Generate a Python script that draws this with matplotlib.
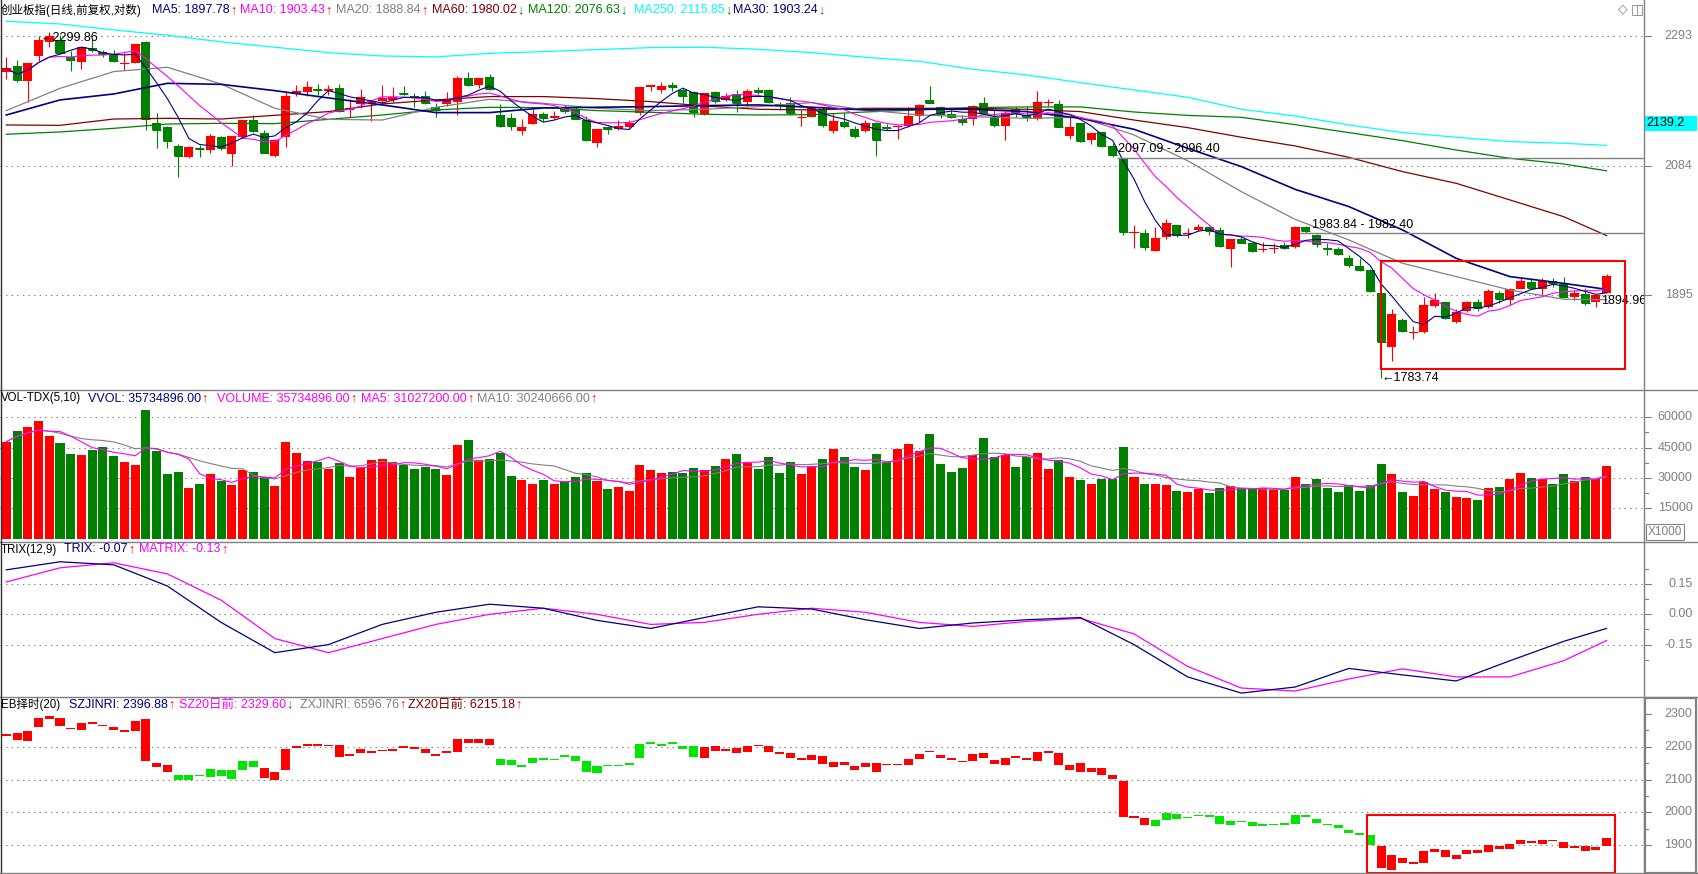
import numpy as np
import pandas as pd
import matplotlib
matplotlib.use('Agg')
import matplotlib.pyplot as plt
from matplotlib.lines import Line2D
from matplotlib.patches import Rectangle
from matplotlib.ticker import NullLocator

plt.rcParams['font.family'] = ['Liberation Sans', 'Noto Sans CJK SC', 'DejaVu Sans']

# ---------------- data ----------------
OPEN = [2233.8, 2243.1, 2218.4, 2259.6, 2283.6, 2286.4, 2258.5, 2250.3, 2272.4, 2265.7,
        2261.3, 2246.4, 2247.5, 2283.6, 2150.4, 2145.2, 2114.9, 2098.3, 2111.2, 2108.6,
        2129.5, 2102.4, 2128.5, 2155.6, 2134.7, 2099.3, 2128.5, 2197.3, 2201.1, 2205.4,
        2202.1, 2207.0, 2171.7, 2180.7, 2182.3, 2186.6, 2187.7, 2199.5, 2194.1, 2194.1,
        2175.9, 2181.3, 2185.0, 2222.8, 2211.8, 2224.5, 2163.6, 2159.4, 2138.9, 2149.3,
        2165.2, 2159.4, 2175.4, 2172.7, 2155.6, 2119.1, 2145.2, 2141.0, 2145.2, 2167.4,
        2209.1, 2203.8, 2211.3, 2203.8, 2201.1, 2165.2, 2201.1, 2187.7, 2197.3, 2185.0,
        2203.8, 2203.8, 2180.7, 2182.3, 2159.9, 2161.0, 2172.7, 2138.9, 2153.0, 2141.0,
        2138.9, 2151.4, 2145.2, 2144.1, 2146.2, 2162.0, 2187.7, 2175.9, 2165.2, 2156.7,
        2157.8, 2182.3, 2161.0, 2146.2, 2172.7, 2163.6, 2156.7, 2182.3, 2181.3, 2130.5,
        2150.4, 2124.3, 2136.3, 2114.9, 2094.5, 1983.4, 1983.4, 1958.2, 1978.6, 1995.5,
        1982.4, 1988.3, 1993.1, 1988.3, 1961.1, 1974.7, 1969.8, 1959.2, 1961.1, 1966.0,
        1964.0, 1992.1, 1981.0, 1962.6, 1961.1, 1947.2, 1936.3, 1930.7, 1897.8, 1824.8,
        1860.9, 1843.3, 1845.1, 1880.7, 1885.3, 1858.6, 1873.8, 1886.3, 1878.4, 1898.7,
        1888.6, 1904.2, 1913.1, 1903.3, 1914.6, 1910.8, 1893.2, 1896.4, 1886.3, 1898.7]

HIGH = [2258.5, 2253.0, 2248.6, 2293.2, 2299.86, 2294.9, 2268.5, 2275.2, 2289.2, 2269.6,
        2269.6, 2264.0, 2279.7, 2284.7, 2166.3, 2146.2, 2118.0, 2114.9, 2116.5, 2133.7,
        2130.5, 2130.5, 2155.6, 2163.6, 2139.9, 2125.3, 2202.1, 2211.8, 2218.4, 2213.5,
        2211.8, 2213.5, 2188.8, 2204.8, 2187.7, 2211.8, 2209.1, 2210.2, 2199.5, 2202.7,
        2182.3, 2201.1, 2226.7, 2233.8, 2222.8, 2230.0, 2181.3, 2166.3, 2157.2, 2172.7,
        2169.0, 2170.6, 2179.7, 2175.9, 2162.0, 2141.5, 2146.2, 2155.6, 2155.6, 2209.1,
        2211.8, 2216.8, 2216.8, 2206.4, 2202.1, 2199.5, 2202.7, 2199.5, 2203.8, 2204.8,
        2209.1, 2205.4, 2185.0, 2193.1, 2171.7, 2178.1, 2175.9, 2167.4, 2166.3, 2146.2,
        2155.6, 2153.0, 2149.3, 2147.2, 2175.9, 2181.3, 2210.2, 2178.1, 2171.7, 2163.6,
        2179.7, 2192.0, 2171.7, 2170.6, 2177.0, 2178.1, 2202.1, 2189.3, 2187.7, 2159.9,
        2151.4, 2135.8, 2137.3, 2120.1, 2096.40, 1995.5, 1989.2, 1992.1, 2005.0, 1995.5,
        1990.7, 1997.0, 1994.1, 1992.1, 1975.2, 1978.6, 1971.3, 1971.3, 1969.8, 1971.3,
        1994.1, 1994.1, 1982.40, 1969.8, 1964.0, 1951.9, 1947.2, 1931.6, 1897.8, 1876.1,
        1863.2, 1852.8, 1893.2, 1897.8, 1886.3, 1875.7, 1887.6, 1889.5, 1903.3, 1901.5,
        1904.7, 1918.8, 1918.3, 1918.8, 1918.8, 1920.2, 1902.4, 1904.7, 1894.96, 1925.0]

LOW = [2221.2, 2217.3, 2185.0, 2251.9, 2275.2, 2262.9, 2235.5, 2238.2, 2266.8, 2258.5,
       2250.3, 2236.6, 2247.5, 2139.9, 2111.2, 2111.2, 2067.8, 2095.8, 2098.3, 2103.4,
       2108.6, 2084.6, 2126.9, 2137.3, 2103.4, 2098.3, 2113.8, 2194.1, 2194.1, 2195.7,
       2195.7, 2169.0, 2161.0, 2174.3, 2154.6, 2182.3, 2185.0, 2195.7, 2175.9, 2181.3,
       2161.0, 2178.1, 2163.6, 2210.2, 2207.5, 2203.8, 2145.2, 2139.9, 2132.1, 2149.3,
       2154.0, 2157.2, 2167.4, 2156.7, 2123.0, 2113.8, 2133.7, 2139.9, 2142.5, 2163.6,
       2202.7, 2199.5, 2202.7, 2182.3, 2161.0, 2164.0, 2182.3, 2185.5, 2169.0, 2178.1,
       2197.3, 2182.3, 2171.7, 2163.6, 2146.2, 2159.9, 2145.2, 2134.7, 2142.5, 2126.9,
       2137.3, 2099.3, 2139.9, 2125.8, 2145.2, 2153.0, 2183.4, 2159.4, 2158.3, 2147.8,
       2147.8, 2165.2, 2144.1, 2124.3, 2161.0, 2154.6, 2155.6, 2178.1, 2144.1, 2125.8,
       2121.7, 2118.0, 2113.8, 2097.09, 1981.5, 1962.6, 1959.2, 1958.2, 1974.7, 1978.6,
       1976.1, 1987.3, 1981.0, 1964.1, 1935.4, 1968.9, 1956.7, 1956.7, 1954.3, 1961.1,
       1961.6, 1983.84, 1964.0, 1951.9, 1951.9, 1934.4, 1929.7, 1900.1, 1783.74, 1806.1,
       1845.1, 1834.7, 1843.8, 1879.0, 1861.8, 1857.3, 1872.5, 1873.8, 1877.0, 1884.0,
       1881.6, 1903.3, 1904.2, 1895.5, 1907.0, 1891.3, 1888.6, 1881.6, 1878.4, 1897.8]

CLOSE = [2239.3, 2220.1, 2248.6, 2286.4, 2293.7, 2264.0, 2253.0, 2274.1, 2269.6, 2262.9,
         2251.4, 2248.6, 2279.7, 2156.7, 2139.9, 2123.2, 2099.3, 2113.8, 2109.7, 2131.1,
         2111.2, 2130.5, 2155.6, 2138.4, 2104.4, 2124.3, 2194.1, 2202.1, 2208.0, 2203.8,
         2205.4, 2170.6, 2175.4, 2192.0, 2186.1, 2190.4, 2193.1, 2197.3, 2193.1, 2182.3,
         2171.7, 2187.7, 2222.8, 2211.8, 2222.8, 2204.8, 2146.2, 2146.2, 2145.2, 2165.2,
         2158.9, 2162.0, 2170.6, 2157.2, 2124.3, 2141.5, 2141.0, 2146.2, 2150.4, 2209.1,
         2211.3, 2210.2, 2209.1, 2194.1, 2169.0, 2199.5, 2186.6, 2194.1, 2182.3, 2202.7,
         2201.1, 2185.0, 2179.7, 2166.3, 2161.0, 2175.9, 2147.8, 2154.6, 2146.2, 2130.5,
         2150.4, 2124.3, 2143.6, 2146.2, 2162.0, 2179.1, 2183.4, 2165.2, 2159.9, 2153.0,
         2178.1, 2167.4, 2147.8, 2167.4, 2167.4, 2161.0, 2185.0, 2183.9, 2145.2, 2145.2,
         2123.2, 2134.7, 2114.9, 2100.9, 1984.9, 1985.3, 1963.0, 1976.1, 1998.0, 1981.0,
         1984.4, 1993.1, 1987.3, 1965.0, 1975.2, 1969.8, 1958.2, 1961.1, 1962.6, 1962.1,
         1993.1, 1986.8, 1967.9, 1960.6, 1952.9, 1937.7, 1930.7, 1901.5, 1831.6, 1869.2,
         1846.5, 1844.7, 1881.2, 1888.6, 1863.2, 1872.0, 1886.3, 1877.0, 1901.5, 1889.5,
         1903.3, 1915.5, 1905.6, 1915.5, 1911.7, 1892.2, 1898.7, 1884.0, 1894.96, 1922.1]

# volume in thousands (axis shows X1000)
VOLUME = [47957, 53230, 55373, 58174, 50758, 47133, 41859, 41365, 43837, 45485,
          40870, 38069, 36421, 63613, 43342, 31971, 32960, 25050, 27027, 31971,
          28510, 26533, 33949, 32960, 30323, 26038, 47792, 42354, 38398, 37904,
          34608, 37574, 30488, 35102, 38893, 39387, 37904, 36421, 34608, 35597,
          34608, 31477, 46309, 48781, 38893, 39552, 42518, 31147, 29005, 27027,
          29005, 27027, 28510, 30323, 32301, 28510, 24555, 25544, 23566, 36421,
          33949, 32466, 32960, 32466, 34938, 33949, 35926, 39387, 41859, 37410,
          34443, 40376, 32466, 37904, 31971, 35432, 39387, 44331, 40376, 35432,
          33949, 41859, 37904, 44331, 46803, 43342, 51747, 36915, 32960, 34938,
          41365, 49770, 40376, 41365, 35432, 40376, 42354, 34443, 38893, 30488,
          29005, 27027, 29499, 29499, 45320, 30488, 27027, 27027, 26533, 23566,
          23072, 24555, 22578, 25050, 26038, 24885, 24390, 24885, 24061, 24061,
          30488, 27027, 29499, 25050, 23072, 26533, 23566, 26533, 36915, 31971,
          23072, 21094, 28016, 24555, 23072, 20600, 20106, 19117, 25050, 25544,
          29499, 32466, 29994, 29499, 27027, 31971, 28510, 30488, 29499, 35735]

# long moving averages / indicators, read at these bar indices
MA_IDX = [0, 5, 10, 15, 20, 25, 30, 35, 40, 45, 50, 55, 60, 65, 70, 75, 80, 85, 90, 95,
          100, 105, 110, 115, 120, 125, 130, 135, 140, 145, 149]
MA20 = [2170.6, 2206.4, 2233.8, 2240.9, 2213.5, 2174.3, 2156.7, 2155.6, 2175.9, 2188.8,
        2182.3, 2174.3, 2170.6, 2172.7, 2177.0, 2183.4, 2171.7, 2163.6, 2161.0, 2158.3,
        2159.9, 2132.1, 2092.0, 2045.0, 2003.8, 1973.7, 1940.1, 1921.2, 1902.4, 1889.5, 1888.84]
MA30 = [2163.6, 2187.7, 2197.3, 2214.6, 2212.9, 2202.7, 2190.9, 2179.7, 2167.4, 2167.4,
        2174.9, 2175.9, 2177.0, 2178.6, 2179.7, 2175.9, 2171.7, 2172.7, 2172.7, 2169.0,
        2158.3, 2141.0, 2111.2, 2083.0, 2048.5, 2022.7, 1988.3, 1947.2, 1921.2, 1911.7, 1903.24]
MA60 = [2147.8, 2147.2, 2157.2, 2158.3, 2157.2, 2163.1, 2169.0, 2181.3, 2187.7, 2193.1,
        2193.1, 2189.8, 2185.0, 2178.1, 2172.7, 2171.7, 2174.3, 2174.3, 2174.3, 2172.7,
        2169.0, 2155.6, 2143.6, 2128.5, 2114.9, 2097.3, 2075.4, 2057.6, 2032.6, 2007.8, 1980.02]
MA120 = [2133.2, 2136.8, 2142.5, 2149.3, 2150.4, 2149.9, 2156.7, 2163.6, 2171.7, 2175.9,
         2175.4, 2170.6, 2167.9, 2164.7, 2163.6, 2164.1, 2168.4, 2171.7, 2175.4, 2176.5,
         2176.5, 2168.4, 2163.0, 2159.9, 2148.3, 2135.8, 2123.2, 2108.6, 2095.8, 2087.1, 2076.63]
MA250 = [2317.9, 2313.4, 2303.3, 2294.3, 2283.1, 2274.1, 2265.1, 2259.6, 2258.0, 2264.0,
         2266.8, 2270.2, 2273.5, 2274.1, 2270.7, 2265.1, 2257.4, 2250.8, 2237.6, 2228.3,
         2215.7, 2203.8, 2192.0, 2172.7, 2162.0, 2147.8, 2135.8, 2128.5, 2121.7, 2119.1, 2115.85]
TRIX_V = [0.22, 0.26, 0.245, 0.14, -0.04, -0.19, -0.15, -0.05, 0.01, 0.05,
          0.03, -0.03, -0.07, -0.016, 0.037, 0.026, -0.027, -0.07, -0.043, -0.027,
          -0.016, -0.15, -0.31, -0.39, -0.36, -0.268, -0.30, -0.33, -0.23, -0.134, -0.07]
MATRIX_V = [0.16, 0.23, 0.255, 0.20, 0.07, -0.12, -0.19, -0.12, -0.05, 0.0,
            0.03, 0.0, -0.05, -0.04, 0.0, 0.03, 0.01, -0.04, -0.06, -0.035,
            -0.02, -0.097, -0.258, -0.365, -0.38, -0.32, -0.27, -0.31, -0.31, -0.23, -0.13]
# EB timing state per bar: r = red, g = green
EB_STATE = ("rrrrrrrrrr" "rrrrrrgggg" "ggggrrrrrr" "rrrrrrrrrr" "rrrrrrgggg"
            "gggggggggg" "gggggrrrrr" "rrrrrrrrrr" "rrrrrrrrrr" "rrrrrrrrrr"
            "rrrrrrrggg" "gggggggggg" "ggggggggrr" "rrrrrrrrrr" "rrrrrrrrrr")

MAIN_TICKS = [2293, 2084, 1895]
VOL_TICKS = [60000, 45000, 30000, 15000]
TRIX_TICKS = [0.15, 0.0, -0.15]
EB_TICKS = [2300, 2200, 2100, 2000, 1900]

# ---------------- styling ----------------
W, H = 1699.0, 874.0
PW = 1644.0
STEP, X0 = 10.74, 6.3
XL = (-X0 / STEP, (PW - X0) / STEP)
GRAY = '#808080'
RED = '#FF0000'
DGREEN = '#008000'
NAVY = '#000080'
MAG = '#FF00FF'
CYAN = '#00FFFF'
DRED = '#800000'
EBGREEN = '#00E600'
FS = 9

O = np.array(OPEN); Hh = np.array(HIGH); L = np.array(LOW); C = np.array(CLOSE)
V = np.array(VOLUME, dtype=float)
N = len(C)
x = np.arange(N)
up = C >= O
cols = np.where(up, RED, DGREEN)

fig = plt.figure(figsize=(W / 100, H / 100), dpi=100)
fig.patch.set_facecolor('white')


def make_ax(top, bot):
    ax = fig.add_axes([0, 1 - bot / H, PW / W, (bot - top) / H])
    ax.set_xlim(*XL)
    for s in ax.spines.values():
        s.set_visible(False)
    ax.set_xticks([])
    ax.patch.set_alpha(0)
    return ax


def right_axis(ax, majors, labels, minors=(), grid=()):
    ax.yaxis.set_major_locator(NullLocator())
    ax.yaxis.set_minor_locator(NullLocator())
    tr = ax.get_yaxis_transform()
    for v, lab in zip(majors, labels):
        ax.plot([1, 1 + 7 / PW], [v, v], transform=tr, clip_on=False, color=GRAY, lw=0.8)
        ax.text(1 + 48.5 / PW, v, lab, transform=tr, ha='right', va='center',
                color=GRAY, fontsize=FS)
    for v in minors:
        ax.plot([1, 1 + 4 / PW], [v, v], transform=tr, clip_on=False, color=GRAY, lw=0.8)
    for v in grid:
        ax.axhline(v, color=GRAY, lw=0.72, ls=(0, (1.4, 4.2)), zorder=0.5)


# ---------------- main price panel ----------------
ax = make_ax(0, 390)
ax.set_yscale('log')
ax.set_ylim(1767.5, 2354.5)
right_axis(ax, MAIN_TICKS, [str(v) for v in MAIN_TICKS], grid=MAIN_TICKS)

ax.vlines(x, L, Hh, colors=cols, lw=0.8, zorder=2)
ax.bar(x, np.abs(C - O), bottom=np.minimum(O, C), width=0.84, color=cols, lw=0, zorder=2)
ax.hlines(C, x - 0.42, x + 0.42, colors=cols, lw=0.8, zorder=2)

ma5 = pd.Series(C).rolling(5, min_periods=1).mean()
ma10 = pd.Series(C).rolling(10, min_periods=1).mean()
ax.plot(MA_IDX, MA250, color=CYAN, lw=0.9, zorder=3)
ax.plot(MA_IDX, MA120, color=DGREEN, lw=0.9, zorder=3)
ax.plot(MA_IDX, MA60, color=DRED, lw=0.9, zorder=3)
ax.plot(MA_IDX, MA20, color=GRAY, lw=0.9, zorder=3)
ax.plot(MA_IDX, MA30, color=NAVY, lw=1.2, zorder=3)
ax.plot(x, ma10, color=MAG, lw=0.8, zorder=3)
ax.plot(x, ma5, color=NAVY, lw=0.8, zorder=3)

# gap lines
ax.hlines(2096.75, 103.4, XL[1], color=GRAY, lw=1.0, zorder=3)
ax.hlines(1983.1, 120.5, XL[1], color=GRAY, lw=1.0, zorder=3)
ax.annotate('2097.09 - 2096.40', xy=(103.5, 2096.75), xytext=(0, 2),
            textcoords='offset points', ha='left', va='bottom', fontsize=FS, zorder=5)
ax.annotate('1983.84 - 1982.40', xy=(121.6, 1983.1), xytext=(0, 2),
            textcoords='offset points', ha='left', va='bottom', fontsize=FS, zorder=5)
ax.text(3.2, 2299.86, '\u21902299.86', ha='left', va='top', fontsize=FS, zorder=5)
ax.text(128.0, 1783.74, '\u21901783.74', ha='left', va='center', fontsize=FS, zorder=5)
ax.text(148.5, 1894.96, '1894.96', ha='left', va='top', fontsize=FS, zorder=5, clip_on=True)

ax.add_patch(Rectangle((128.0, 1794.6), 150.7 - 128.0, 1943.8 - 1794.6,
                       fill=False, ec=RED, lw=1.5, zorder=6))

# ---------------- volume panel ----------------
axv = make_ax(390, 541.7)
axv.set_ylim(-1533, 73482)
right_axis(axv, VOL_TICKS, [str(v) for v in VOL_TICKS],
           minors=[52500, 37500, 22500], grid=VOL_TICKS)
axv.bar(x, V, width=0.84, color=cols, lw=0, zorder=2)
vma5 = pd.Series(V).rolling(5, min_periods=1).mean()
vma10 = pd.Series(V).rolling(10, min_periods=1).mean()
axv.plot(x, vma10, color=GRAY, lw=0.8, zorder=3)
axv.plot(x, vma5, color=MAG, lw=0.8, zorder=3)

# ---------------- TRIX panel ----------------
axt = make_ax(541.7, 696.7)
axt.set_ylim(-0.4079, 0.3594)
right_axis(axt, TRIX_TICKS, ['0.15', '0.00', '-0.15'],
           minors=[0.225, 0.075, -0.075, -0.225], grid=TRIX_TICKS)
axt.plot(MA_IDX, MATRIX_V, color=MAG, lw=0.9)
axt.plot(MA_IDX, TRIX_V, color=NAVY, lw=0.9)

# ---------------- EB panel ----------------
axe = make_ax(696.7, 874)
axe.set_ylim(1812.6, 2352.8)
right_axis(axe, EB_TICKS, [str(v) for v in EB_TICKS],
           minors=[2250, 2150, 2050, 1950], grid=EB_TICKS[1:])
eb_cols = [RED if s == 'r' else EBGREEN for s in EB_STATE]
axe.bar(x, np.maximum(np.abs(C - O), 5.0), bottom=np.minimum(O, C), width=0.84,
        color=eb_cols, lw=0, zorder=2)
axe.add_patch(Rectangle((126.7, 1816.3), 149.8 - 126.7, 1992.5 - 1816.3,
                        fill=False, ec=RED, lw=1.5, zorder=6))

# ---------------- frame lines ----------------
def fline(x0, y0, x1, y1, color=GRAY, lw=1.0):
    fig.add_artist(Line2D([x0 / W, x1 / W], [1 - y0 / H, 1 - y1 / H],
                          transform=fig.transFigure, color=color, lw=lw))

for yy in (390, 541.7, 696.7):
    fline(0, yy, W, yy)
fline(PW + 0.5, 0, PW + 0.5, H)
fline(0.6, 0, 0.6, H, color='#303030', lw=1.0)
fline(0, H - 1, W, H - 1)
fig.add_artist(Rectangle((1645.5 / W, 1 - 873 / H), 51 / W, 175.5 / H,
                         transform=fig.transFigure, fill=False, ec=GRAY, lw=1.6))

# cyan cursor price box
fig.add_artist(Rectangle((1645 / W, 1 - 131 / H), 52 / W, 15 / H,
                         transform=fig.transFigure, fc=CYAN, ec='none'))
fig.text(1646 / W, 1 - 123.5 / H, '2139.2', ha='left', va='center', fontsize=FS, color='black')

# X1000 box
fig.text(1648 / W, 1 - 532 / H, 'X1000', ha='left', va='center', fontsize=8.5, color=GRAY,
         bbox=dict(boxstyle='square,pad=0.15', fc='white', ec=GRAY, lw=0.8))

# top-right icons
fig.text(1623 / W, 1 - 9 / H, '\u25c7', ha='center', va='center', fontsize=9, color=GRAY,
         family='DejaVu Sans')
fig.text(1637 / W, 1 - 9 / H, '\u25eb', ha='center', va='center', fontsize=10, color=GRAY,
         family='DejaVu Sans')

# ---------------- header texts ----------------
renderer = fig.canvas.get_renderer()
ARROWS = {'up': ('\u2191', RED), 'dn': ('\u2193', DGREEN)}


def header(y_px, items):
    for xpx, txt, col, arr in items:
        size = FS if arr else 8.3
        t = fig.text(xpx / W, 1 - y_px / H, txt, color=col, fontsize=size, ha='left', va='center')
        if arr:
            bb = t.get_window_extent(renderer)
            a, ac = ARROWS[arr]
            fig.text((bb.x1 + 0.5) / W, 1 - y_px / H, a, color=ac, fontsize=FS,
                     ha='left', va='center')


header(10, [(1, '创业板指(日线,前复权,对数)', 'black', None),
            (152, 'MA5: 1897.78', NAVY, 'up'),
            (240, 'MA10: 1903.43', MAG, 'up'),
            (336, 'MA20: 1888.84', GRAY, 'up'),
            (432, 'MA60: 1980.02', DRED, 'dn'),
            (528, 'MA120: 2076.63', DGREEN, 'dn'),
            (634, 'MA250: 2115.85', CYAN, 'dn'),
            (733, 'MA30: 1903.24', NAVY, 'dn')])
header(398.5, [(1, 'VOL-TDX(5,10)', 'black', None),
               (88, 'VVOL: 35734896.00', NAVY, 'up'),
               (217, 'VOLUME: 35734896.00', MAG, 'up'),
               (361, 'MA5: 31027200.00', MAG, 'up'),
               (477, 'MA10: 30240666.00', GRAY, 'up')])
header(549.5, [(1, 'TRIX(12,9)', 'black', None),
               (64, 'TRIX: -0.07', NAVY, 'up'),
               (139, 'MATRIX: -0.13', MAG, 'up')])
header(704.5, [(1, 'EB择时(20)', 'black', None),
               (69, 'SZJINRI: 2396.88', NAVY, 'up'),
               (179, 'SZ20日前: 2329.60', MAG, 'dn'),
               (300, 'ZXJINRI: 6596.76', GRAY, 'up'),
               (408, 'ZX20日前: 6215.18', DRED, 'up')])

fig.savefig('out.png', dpi=100, facecolor='white')
